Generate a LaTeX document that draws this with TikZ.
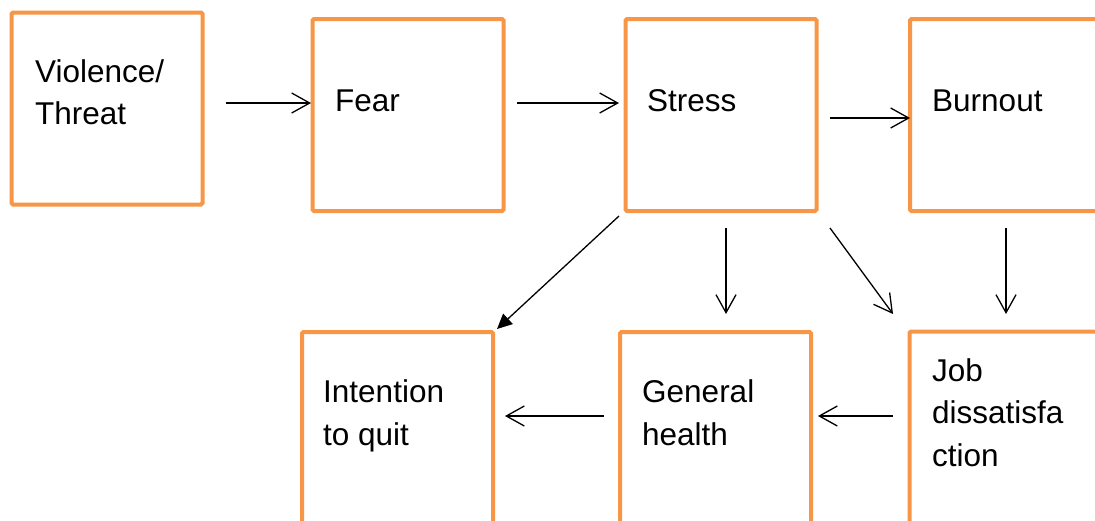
\documentclass[tikz,border=0pt]{standalone}
\usepackage{fontspec}
\setmainfont{Liberation Sans}
\usetikzlibrary{arrows.meta}
\definecolor{boxorange}{HTML}{F79646}
\tikzset{
  box/.style={draw=boxorange, line width=4pt, rectangle, rounded corners=1.5pt, inner sep=0pt, outer sep=0pt, minimum width=191pt, minimum height=192pt, anchor=north west},
  lbl/.style={font=\fontsize{31.5}{42.5}\selectfont, align=left, inner sep=0pt, anchor=base west},
  conn/.style={draw=black, line width=1.3pt, -{Straight Barb[length=18pt,width=20pt,line width=1.3pt]}},
  fconn/.style={draw=black, line width=1.3pt, -{Triangle[length=15pt,width=14pt]}}
}
\begin{document}
\begin{tikzpicture}[x=1pt,y=-1pt]
\useasboundingbox (0,0) rectangle (1095,520);
\clip (0,0) rectangle (1095,520);
% boxes
\node[box] (vt) at (11.5,12.5) {};
\node[box] (fear) at (312.5,19) {};
\node[box] (stress) at (625.5,19) {};
\node[box] (burn) at (910,19) {};
\node[box] (quit) at (302,332) {};
\node[box] (health) at (620,332) {};
\node[box] (job) at (909.5,331.5) {};
% labels (anchored at the baseline of the last line)
\node[lbl] (tvt) at (35,124.5) {Violence/\\Threat};
\node[lbl] (tfear) at (335,111) {Fear};
\node[lbl] (tstress) at (647,111) {Stress};
\node[lbl] (tburn) at (932,111) {Burnout};
\node[lbl] (tquit) at (323,445) {Intention\\to quit};
\node[lbl] (thealth) at (642,445) {General\\health};
\node[lbl] (tjob) at (932,466) {Job\\dissatisfa\\ction};
% connector end points
\coordinate (a1) at (226,103); \coordinate (a2) at (311,103);
\coordinate (b1) at (517,103); \coordinate (b2) at (619,103);
\coordinate (c1) at (830,118); \coordinate (c2) at (910,118);
\coordinate (d1) at (726,228); \coordinate (d2) at (726,314);
\coordinate (e1) at (830,228); \coordinate (e2) at (893,314);
\coordinate (f1) at (619,216); \coordinate (f2) at (497,329);
\coordinate (g1) at (1006,228); \coordinate (g2) at (1006,314);
\coordinate (h1) at (893,416); \coordinate (h2) at (818,416);
\coordinate (i1) at (604,416); \coordinate (i2) at (505,416);
% connectors
\draw[conn] (a1) -- (a2);
\draw[conn] (b1) -- (b2);
\draw[conn] (c1) -- (c2);
\draw[conn] (d1) -- (d2);
\draw[conn] (e1) -- (e2);
\draw[fconn] (f1) -- (f2);
\draw[conn] (g1) -- (g2);
\draw[conn] (h1) -- (h2);
\draw[conn] (i1) -- (i2);
\end{tikzpicture}
\end{document}
